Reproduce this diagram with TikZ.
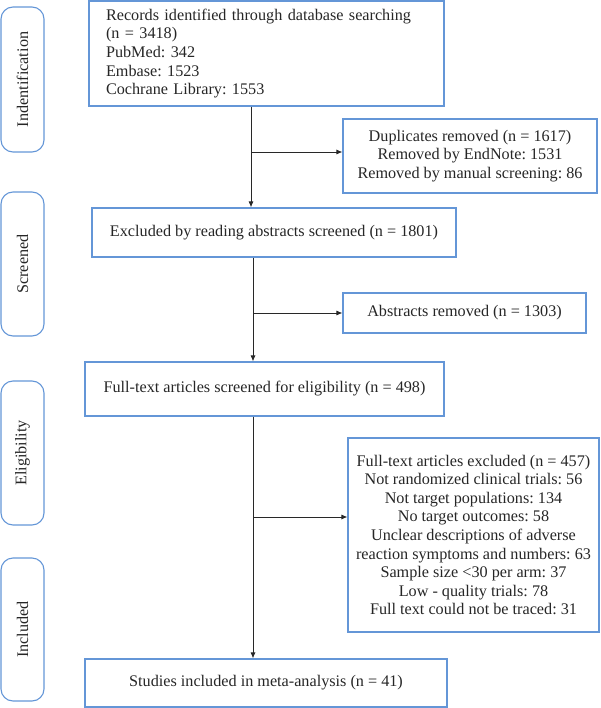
\documentclass[tikz,border=0pt]{standalone}
\usepackage{fontspec}
\setmainfont{Liberation Serif}
\usetikzlibrary{arrows.meta}
\definecolor{boxblue}{RGB}{100,150,215}
\definecolor{arrgray}{RGB}{40,40,40}
\newcommand\fsz{\fontsize{16.2}{18.6}\selectfont\frenchspacing}
\tikzset{
  box/.style={draw=boxblue, line width=1.1pt, rectangle, inner sep=0pt, align=center, font=\fsz, text=black!85},
  sidebox/.style={draw=boxblue, line width=1.1pt, rectangle, rounded corners=12pt, inner sep=0pt, rotate=90, minimum height=43pt, font=\fsz, text=black!85},
  arr/.style={draw=arrgray, line width=0.9pt, -{Latex[length=6pt,width=5pt]}},
}
\begin{document}
\begin{tikzpicture}[x=1pt,y=-1pt]
\useasboundingbox (0,0) rectangle (600,708);
% side labels
\node[sidebox, minimum width=145pt] (sid) at (22.5,79.5) {Indentification};
\node[sidebox, minimum width=144pt] (ssc) at (22.5,264) {Screened};
\node[sidebox, minimum width=144pt] (sel) at (22.5,453) {Eligibility};
\node[sidebox, minimum width=143pt] (sin) at (22.5,629.5) {Included};
% boxes
\node[box, align=left, text width=321pt, inner xsep=17pt, minimum height=105pt] (rec) at (266.5,53.5)
  {Records identified through database searching\\(n = 3418)\\PubMed: 342\\Embase: 1523\\Cochrane Library: 1553};
\node[box, minimum width=254pt, minimum height=74pt] (dup) at (470,156)
  {Duplicates removed (n = 1617)\\Removed by EndNote: 1531\\Removed by manual screening: 86};
\node[box, minimum width=364pt, minimum height=49pt] (exa) at (274,232.5)
  {Excluded by reading abstracts screened (n = 1801)};
\node[box, minimum width=243pt, minimum height=40pt] (abr) at (464.5,313)
  {Abstracts removed (n = 1303)};
\node[box, minimum width=359pt, minimum height=54pt] (fts) at (264.5,389)
  {Full-text articles screened for eligibility (n = 498)};
\node[box, minimum width=251pt, minimum height=194pt] (fte) at (473.5,535)
  {Full-text articles excluded (n = 457)\\Not randomized clinical trials: 56\\Not target populations: 134\\No target outcomes: 58\\Unclear descriptions of adverse\\reaction symptoms and numbers: 63\\Sample size {<}30 per arm: 37\\Low - quality trials: 78\\Full text could not be traced: 31};
\node[box, minimum width=362pt, minimum height=48pt] (inc) at (266,683)
  {Studies included in meta-analysis (n = 41)};
% connectors
\coordinate (b1) at (251,152);
\coordinate (b2) at (253,313);
\coordinate (b3) at (253,517);
\draw[arr] (rec.south -| b1) -- (exa.north -| b1);
\draw[arr] (b1) -- (b1 -| dup.west);
\draw[arr] (exa.south -| b2) -- (fts.north -| b2);
\draw[arr] (b2) -- (b2 -| abr.west);
\draw[arr] (fts.south -| b3) -- (inc.north -| b3);
\draw[arr] (b3) -- (b3 -| fte.west);
\end{tikzpicture}
\end{document}
